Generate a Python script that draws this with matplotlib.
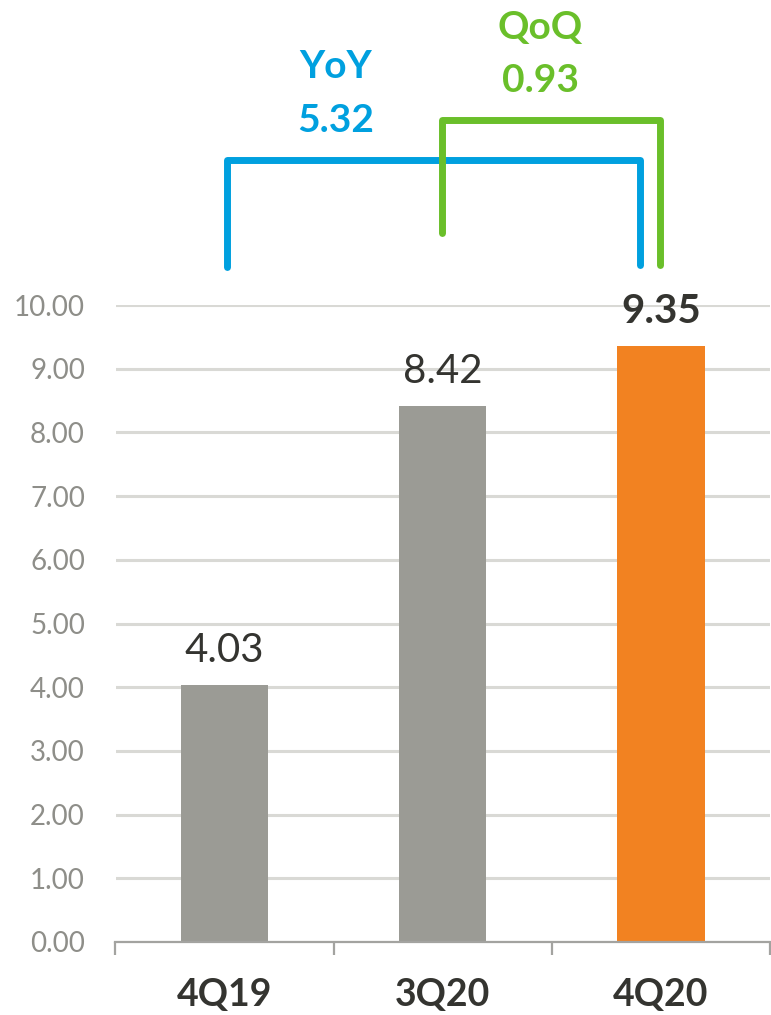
import matplotlib
matplotlib.use("Agg")
import matplotlib.pyplot as plt

# ---------------------------------
# data
# ---------------------------------
categories = ["4Q19", "3Q20", "4Q20"]
values = [4.03, 8.42, 9.35]
bar_colors = ["#9B9B95", "#9B9B95", "#F28221"]
y_ticks = [0, 1, 2, 3, 4, 5, 6, 7, 8, 9, 10]

BLUE = "#00A0DF"
GREEN = "#6ABF2A"
DARK = "#343430"
TICK_GRAY = "#8E8E89"

plt.rcParams["font.family"] = ["Lato", "DejaVu Sans"]

fig = plt.figure(figsize=(7.71, 10.15), dpi=100)
ax = fig.add_axes([115.5 / 771, 73 / 1015, (770 - 115.5) / 771, 637 / 1015])

x = list(range(len(categories)))
ax.bar(x, values, width=0.40, color=bar_colors, zorder=2)

ax.set_xlim(-0.5, 2.49)
ax.set_ylim(0, 10)
ax.set_yticks(y_ticks)
ax.set_yticklabels([f"{v:.2f}" for v in y_ticks])
ax.yaxis.grid(True, color="#D9D9D5", linewidth=2.2, zorder=0)
ax.set_axisbelow(True)

for s in ["top", "right", "left"]:
    ax.spines[s].set_visible(False)
ax.spines["bottom"].set_color("#A3A3A0")
ax.spines["bottom"].set_linewidth(1.6)

ax.tick_params(axis="y", length=0, pad=22, labelsize=20, labelcolor=TICK_GRAY)
ax.set_xticks(x)
ax.set_xticklabels(categories, fontsize=27, fontweight="bold", color=DARK)
ax.set_xticks([-0.5, 0.5, 1.5, 2.5], minor=True)
ax.tick_params(axis="x", which="major", length=0, pad=26)
ax.tick_params(axis="x", which="minor", length=9.5, width=1.6, color="#A3A3A0")

# bar value labels
for i, v in enumerate(values):
    last = i == len(values) - 1
    ax.annotate(f"{v:.2f}", (i, v), xytext=(0, 16.5), textcoords="offset points",
                ha="center", va="baseline", fontsize=29, color=DARK,
                fontweight="bold" if last else "normal")

# YoY / QoQ brackets
yoy = values[2] - values[0]
qoq = values[2] - values[1]

ax.plot([0.01, 0.01, 1.904, 1.904], [10.60, 12.28, 12.28, 10.63], color=BLUE,
        linewidth=5, clip_on=False, solid_joinstyle="round", solid_capstyle="round", zorder=3)
ax.plot([0.995, 0.995, 1.995, 1.995], [11.13, 12.90, 12.90, 10.63], color=GREEN,
        linewidth=5, clip_on=False, solid_joinstyle="round", solid_capstyle="round", zorder=4)

ax.text(0.51, 13.75, "YoY", ha="center", va="center", fontsize=28, fontweight="bold", color=BLUE)
ax.text(0.51, 12.90, f"{yoy:.2f}", ha="center", va="center", fontsize=28, fontweight="bold", color=BLUE)
ax.text(1.446, 14.35, "QoQ", ha="center", va="center", fontsize=28, fontweight="bold", color=GREEN)
ax.text(1.446, 13.52, f"{qoq:.2f}", ha="center", va="center", fontsize=28, fontweight="bold", color=GREEN)

fig.savefig("out.png", dpi=100)
